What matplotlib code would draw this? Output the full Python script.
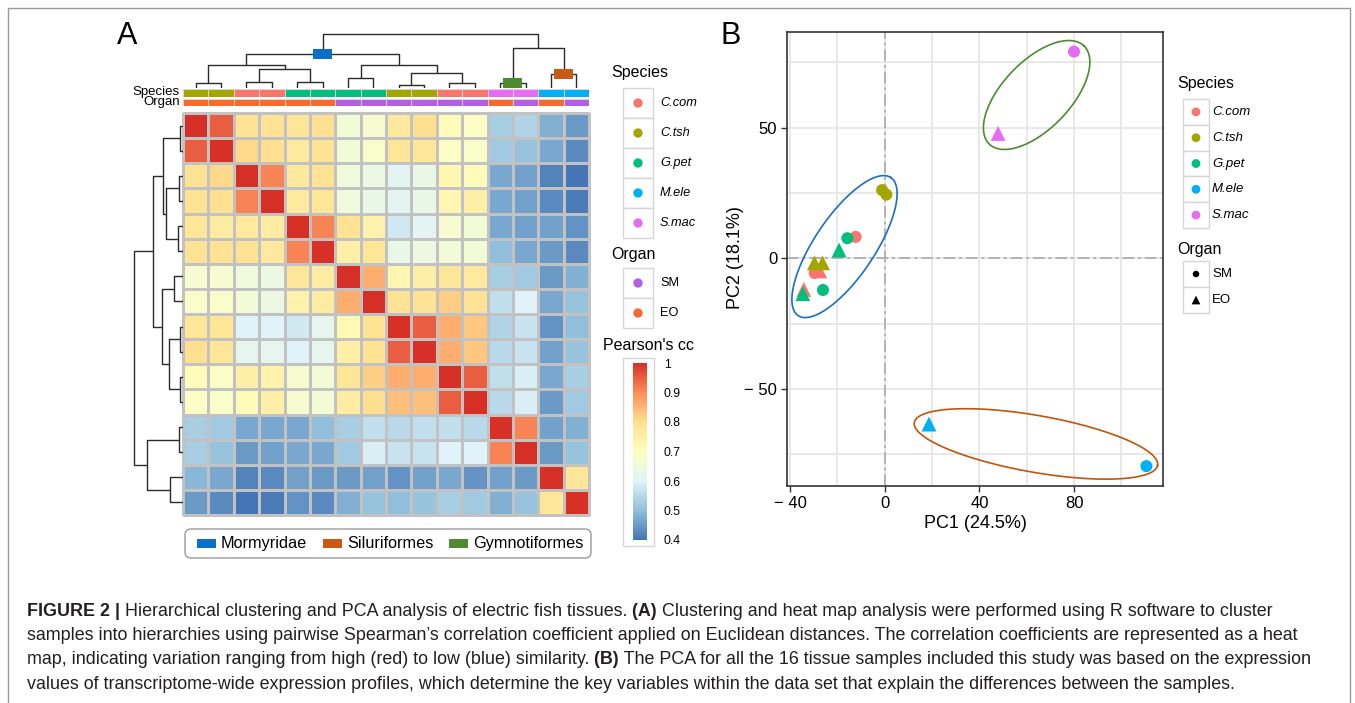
import numpy as np
import matplotlib.pyplot as plt
from matplotlib.colors import LinearSegmentedColormap
from matplotlib.patches import Rectangle, FancyBboxPatch

plt.rcParams['font.family'] = ['Liberation Sans', 'DejaVu Sans']

W, H = 1355, 703

# -------------------------- Heat map data --------------------------
corr = np.array([
    [1.00, 0.95, 0.79, 0.79, 0.78, 0.80, 0.66, 0.67, 0.77, 0.80, 0.71, 0.69, 0.53, 0.54, 0.48, 0.45],
    [0.95, 1.00, 0.81, 0.80, 0.77, 0.79, 0.66, 0.68, 0.78, 0.78, 0.69, 0.68, 0.52, 0.51, 0.47, 0.43],
    [0.79, 0.81, 1.00, 0.91, 0.77, 0.79, 0.65, 0.64, 0.61, 0.63, 0.73, 0.71, 0.47, 0.46, 0.42, 0.40],
    [0.79, 0.80, 0.91, 1.00, 0.77, 0.78, 0.65, 0.63, 0.61, 0.63, 0.73, 0.75, 0.47, 0.46, 0.43, 0.41],
    [0.78, 0.76, 0.77, 0.76, 1.00, 0.91, 0.79, 0.74, 0.58, 0.61, 0.67, 0.66, 0.47, 0.46, 0.46, 0.44],
    [0.79, 0.79, 0.79, 0.77, 0.91, 1.00, 0.75, 0.78, 0.63, 0.64, 0.66, 0.66, 0.50, 0.47, 0.45, 0.43],
    [0.67, 0.67, 0.65, 0.64, 0.78, 0.76, 1.00, 0.86, 0.73, 0.75, 0.78, 0.77, 0.53, 0.52, 0.45, 0.48],
    [0.68, 0.68, 0.66, 0.64, 0.74, 0.76, 0.86, 1.00, 0.79, 0.79, 0.82, 0.79, 0.56, 0.60, 0.47, 0.51],
    [0.78, 0.78, 0.60, 0.60, 0.58, 0.62, 0.72, 0.79, 1.00, 0.95, 0.86, 0.83, 0.54, 0.57, 0.44, 0.50],
    [0.80, 0.78, 0.62, 0.62, 0.60, 0.62, 0.75, 0.79, 0.95, 1.00, 0.86, 0.83, 0.55, 0.57, 0.46, 0.51],
    [0.71, 0.69, 0.75, 0.74, 0.67, 0.66, 0.78, 0.82, 0.86, 0.86, 1.00, 0.95, 0.56, 0.59, 0.47, 0.53],
    [0.69, 0.68, 0.71, 0.75, 0.67, 0.66, 0.76, 0.80, 0.84, 0.84, 0.95, 1.00, 0.55, 0.59, 0.45, 0.52],
    [0.53, 0.52, 0.47, 0.47, 0.47, 0.50, 0.53, 0.56, 0.55, 0.56, 0.56, 0.55, 1.00, 0.91, 0.46, 0.48],
    [0.53, 0.51, 0.45, 0.46, 0.47, 0.47, 0.52, 0.59, 0.57, 0.57, 0.60, 0.60, 0.91, 1.00, 0.45, 0.51],
    [0.49, 0.47, 0.42, 0.43, 0.46, 0.45, 0.45, 0.46, 0.44, 0.46, 0.47, 0.44, 0.46, 0.45, 1.00, 0.78],
    [0.45, 0.43, 0.40, 0.41, 0.44, 0.43, 0.48, 0.51, 0.50, 0.51, 0.53, 0.52, 0.48, 0.51, 0.78, 1.00],
])

col_species = ['C.tsh', 'C.tsh', 'C.com', 'C.com', 'G.pet', 'G.pet', 'G.pet', 'G.pet',
               'C.tsh', 'C.tsh', 'C.com', 'C.com', 'S.mac', 'S.mac', 'M.ele', 'M.ele']
col_organ = ['EO', 'EO', 'EO', 'EO', 'EO', 'EO', 'SM', 'SM',
             'SM', 'SM', 'SM', 'SM', 'EO', 'SM', 'EO', 'SM']

species_names = ['C.com', 'C.tsh', 'G.pet', 'M.ele', 'S.mac']
species_colors = {'C.com': '#F8766D', 'C.tsh': '#A3A500', 'G.pet': '#00BF7D',
                  'M.ele': '#00B0F6', 'S.mac': '#E76BF3'}
organ_names = ['SM', 'EO']
organ_colors = {'SM': '#B160E2', 'EO': '#F46B2E'}

# dendrogram: leaves 0..15 in plotted order, merge k makes node 16+k
merges = [(0, 1), (2, 3), (4, 5), (6, 7), (8, 9), (10, 11), (12, 13), (14, 15),
          (17, 18), (16, 24), (20, 21), (19, 26), (25, 27), (22, 23), (28, 29)]
col_heights = [14, 17, 19, 29, 10, 14, 14, 42, 57, 67, 44, 69, 100, 119, 160]
row_heights = [10, 13, 16, 28, 8, 10, 12, 38, 51, 58, 40, 61, 90, 108, 146]

clade_names = ['Mormyridae', 'Siluriformes', 'Gymnotiformes']
clade_nodes = [28, 23, 22]
clade_colors = ['#0A6FC8', '#C75A14', '#4E8B30']

cbar_ticks = [0.4, 0.5, 0.6, 0.7, 0.8, 0.9, 1.0]
cbar_labels = ['0.4', '0.5', '0.6', '0.7', '0.8', '0.9', '1']

# -------------------------- PCA data --------------------------
pc_species = ['C.com', 'C.com', 'C.com', 'C.com', 'C.tsh', 'C.tsh', 'C.tsh', 'C.tsh',
              'G.pet', 'G.pet', 'G.pet', 'G.pet', 'M.ele', 'M.ele', 'S.mac', 'S.mac']
pc_organ = ['SM', 'SM', 'EO', 'EO', 'SM', 'SM', 'EO', 'EO',
            'SM', 'SM', 'EO', 'EO', 'SM', 'EO', 'SM', 'EO']
pc1 = [-12.3, -29.6, -27.5, -34.2, -1.1, 0.7, -29.7, -26.3,
       -15.8, -26.1, -19.3, -34.6, 110.6, 18.7, 80.0, 47.9]
pc2 = [8.2, -5.6, -4.8, -11.9, 26.1, 24.4, -1.7, -1.7,
       7.7, -12.1, 3.2, -13.5, -79.5, -63.4, 79.1, 47.8]

# group ellipses: centre, half major axis vector, half minor axis vector
ell_centers = [(-17.0, 4.5), (63.9, -71.0), (64.2, 62.5)]
ell_major = [(19.6, 26.4), (51.4, -8.2), (20.0, 18.8)]
ell_minor = [(-10.5, 6.4), (2.1, 10.7), (-10.3, 9.0)]
ell_colors = ['#1B6EC2', '#C4530C', '#4E8B30']

caption_lines = [
    [('FIGURE 2 |', True),
     (' Hierarchical clustering and PCA analysis of electric fish tissues.', False),
     (' (A)', True),
     (' Clustering and heat map analysis were performed using R software to cluster', False)],
    [('samples into hierarchies using pairwise Spearman\u2019s correlation coefficient applied on '
      'Euclidean distances. The correlation coefficients are represented as a heat', False)],
    [('map, indicating variation ranging from high (red) to low (blue) similarity.', False),
     (' (B)', True),
     (' The PCA for all the 16 tissue samples included this study was based on the expression', False)],
    [('values of transcriptome-wide expression profiles, which determine the key variables '
      'within the data set that explain the differences between the samples.', False)],
]

# -------------------------- Figure --------------------------
fig = plt.figure(figsize=(W / 100, H / 100), dpi=100)


def px_axes(x0, y0, x1, y1, **kw):
    return fig.add_axes([x0 / W, 1 - y1 / H, (x1 - x0) / W, (y1 - y0) / H], **kw)


ov = px_axes(0, 0, W, H)
ov.set_xlim(0, W)
ov.set_ylim(H, 0)
ov.axis('off')

# outer frame
ov.plot([8, 8, 1350, 1350], [H, 8, 8, H], color='#9a9a9a', lw=1)

cmap = LinearSegmentedColormap.from_list(
    'rdylbu', ['#4575B4', '#91BFDB', '#E0F3F8', '#FFFFBF', '#FEE090', '#FC8D59', '#D73027'])

# heat map
ax_hm = px_axes(183, 113, 589, 515)
mesh = ax_hm.pcolormesh(corr, cmap=cmap, vmin=0.4, vmax=1.0,
                        edgecolors='#c2c2c2', linewidth=1.0)
mesh.set_clip_on(False)
ax_hm.set_xlim(0, 16)
ax_hm.set_ylim(16, 0)
ax_hm.axis('off')

# annotation rows
for (y0, y1), labels, cols in [((89, 97), col_species, species_colors),
                               ((99, 106), col_organ, organ_colors)]:
    a = px_axes(183, y0, 589, y1)
    a.bar(np.arange(16) + 0.5, 1, width=1, color=[cols[s] for s in labels],
          edgecolor='#dcdcdc', linewidth=0.6)
    a.set_xlim(0, 16)
    a.set_ylim(0, 1)
    a.axis('off')
ov.text(180, 92, 'Species', ha='right', va='center', fontsize=9.5)
ov.text(180, 102.5, 'Organ', ha='right', va='center', fontsize=9.5)


def draw_dendro(ax, heights, top=True):
    pos = {i: i + 0.5 for i in range(16)}
    hgt = {i: 0.0 for i in range(16)}
    for k, ((a, b), h) in enumerate(zip(merges, heights)):
        xs = [pos[a], pos[a], pos[b], pos[b]]
        ys = [hgt[a], h, h, hgt[b]]
        if top:
            ax.plot(xs, ys, color='#2b2b2b', lw=1.0, solid_capstyle='butt')
        else:
            ax.plot(ys, xs, color='#2b2b2b', lw=1.0, solid_capstyle='butt')
        pos[16 + k] = (pos[a] + pos[b]) / 2
        hgt[16 + k] = h
    return pos, hgt


ax_top = px_axes(183, 33, 589, 88)
pos, hgt = draw_dendro(ax_top, col_heights, top=True)
for node, c in zip(clade_nodes, clade_colors):
    ax_top.add_patch(Rectangle((pos[node] - 0.375, hgt[node] - 15), 0.75, 30,
                               facecolor=c, edgecolor='none', zorder=3))
ax_top.set_xlim(0, 16)
ax_top.set_ylim(0, 163)
ax_top.axis('off')

ax_left = px_axes(133, 113, 183, 515)
draw_dendro(ax_left, row_heights, top=False)
ax_left.set_ylim(16, 0)
ax_left.set_xlim(148, 0)
ax_left.axis('off')

ov.text(127, 36, 'A', ha='center', va='center', fontsize=22)
ov.text(731, 36, 'B', ha='center', va='center', fontsize=22)

# panel A legends
ov.text(611, 73, 'Species', ha='left', va='center', fontsize=11.5)
for i, s in enumerate(species_names):
    y0 = 88 + 30 * i
    ov.add_patch(Rectangle((623, y0), 30, 30, facecolor='white', edgecolor='#d6d6d6', lw=1))
    ov.scatter([638], [y0 + 15], s=45, color=species_colors[s], edgecolors='none')
    ov.text(660, y0 + 15, s, ha='left', va='center', fontsize=9.2, style='italic')
ov.text(611, 255, 'Organ', ha='left', va='center', fontsize=11.5)
for i, o in enumerate(organ_names):
    y0 = 268 + 30 * i
    ov.add_patch(Rectangle((623, y0), 30, 30, facecolor='white', edgecolor='#d6d6d6', lw=1))
    ov.scatter([638], [y0 + 15], s=45, color=organ_colors[o], edgecolors='none')
    ov.text(660, y0 + 15, o, ha='left', va='center', fontsize=9.2)
ov.text(603, 345, "Pearson's cc", ha='left', va='center', fontsize=11.5)
ov.add_patch(Rectangle((623, 358), 31, 188, facecolor='white', edgecolor='#d6d6d6', lw=1))
cax = px_axes(633, 363, 647, 540)
cb = fig.colorbar(mesh, cax=cax, ticks=cbar_ticks)
cb.outline.set_visible(False)
cax.set_yticklabels(cbar_labels)
cax.tick_params(length=0, pad=12, labelsize=8.8)

# clade legend
ov.add_patch(FancyBboxPatch((185, 529), 406, 29, boxstyle='round,pad=0,rounding_size=6',
                            facecolor='white', edgecolor='#9a9a9a', lw=1))
for name, c, x in zip(clade_names, clade_colors, [197, 323, 449]):
    ov.add_patch(Rectangle((x, 539), 19, 9, facecolor=c, edgecolor='none'))
    ov.text(x + 24, 543.5, name, ha='left', va='center', fontsize=11.7)

# -------------------------- PCA panel --------------------------
ax = px_axes(787, 32, 1163, 486)
ax.set_xlim(-41.3, 117.6)
ax.set_ylim(-87.1, 86.6)
ax.set_xticks([-40, 0, 40, 80])
ax.set_xticklabels(['\u2212 40', '0', '40', '80'])
ax.set_xticks([-20, 20, 60, 100], minor=True)
ax.set_yticks([-50, 0, 50])
ax.set_yticklabels(['\u2212 50', '0', '50'])
ax.set_yticks([-75, -25, 25, 75], minor=True)
ax.grid(True, which='both', color='#e6e6e6', lw=1.3)
ax.set_axisbelow(True)
ax.tick_params(which='major', length=4, width=1, color='#333333', labelsize=12, pad=3)
ax.tick_params(which='minor', length=0)
for sp in ax.spines.values():
    sp.set_color('#333333')
    sp.set_linewidth(1.2)
ax.axhline(0, color='#b3b3b3', lw=1.4, dashes=(6, 2, 1.5, 2), zorder=1)
ax.axvline(0, color='#b3b3b3', lw=1.4, dashes=(6, 2, 1.5, 2), zorder=1)

t = np.linspace(0, 2 * np.pi, 300)
for (cx, cy), (ux, uy), (vx, vy), c in zip(ell_centers, ell_major, ell_minor, ell_colors):
    ax.plot(cx + ux * np.cos(t) + vx * np.sin(t), cy + uy * np.cos(t) + vy * np.sin(t),
            color=c, lw=1.2, zorder=2)

for sx, sy, sp, org in zip(pc1, pc2, pc_species, pc_organ):
    ax.scatter(sx, sy, s=75 if org == 'SM' else 115, marker='o' if org == 'SM' else '^',
               color=species_colors[sp], edgecolors='none', zorder=3)

ov.text(975, 524, 'PC1 (24.5%)', ha='center', va='center', fontsize=13)
ov.text(735, 258, 'PC2 (18.1%)', ha='center', va='center', fontsize=13, rotation=90)

# PCA legend (clipped on the right like the original)
lg = px_axes(1160, 60, 1250, 330)
lg.set_xlim(1160, 1250)
lg.set_ylim(330, 60)
lg.axis('off')
lg.text(1177, 83, 'Species', ha='left', va='center', fontsize=11.5)
for i, s in enumerate(species_names):
    y0 = 99 + 25.8 * i
    lg.add_patch(Rectangle((1183, y0), 26, 25.8, facecolor='white', edgecolor='#d6d6d6', lw=1))
    lg.scatter([1196], [y0 + 12.9], s=40, color=species_colors[s], edgecolors='none')
    lg.text(1212, y0 + 12.9, s, ha='left', va='center', fontsize=9.5, style='italic', clip_on=True)
lg.text(1177, 249, 'Organ', ha='left', va='center', fontsize=11.5)
for i, (o, m) in enumerate(zip(['SM', 'EO'], ['o', '^'])):
    y0 = 261 + 26 * i
    lg.add_patch(Rectangle((1183, y0), 26, 26, facecolor='white', edgecolor='#d6d6d6', lw=1))
    lg.scatter([1196], [y0 + 13], s=22 if m == 'o' else 40, marker=m, color='black',
               edgecolors='none')
    lg.text(1212, y0 + 13, o, ha='left', va='center', fontsize=9.5, clip_on=True)

# -------------------------- Caption --------------------------
for i, segs in enumerate(caption_lines):
    y = 611 + 24.5 * i
    prev = None
    for txt, bold in segs:
        kw = dict(fontsize=12.9, fontweight='bold' if bold else 'normal', color='#231f20',
                  ha='left', va='center')
        if prev is None:
            prev = ov.text(27, y, txt, **kw)
        else:
            prev = ov.annotate(txt, xy=(1, 0.5), xycoords=prev, **kw)

plt.savefig('out.png', dpi=100)
